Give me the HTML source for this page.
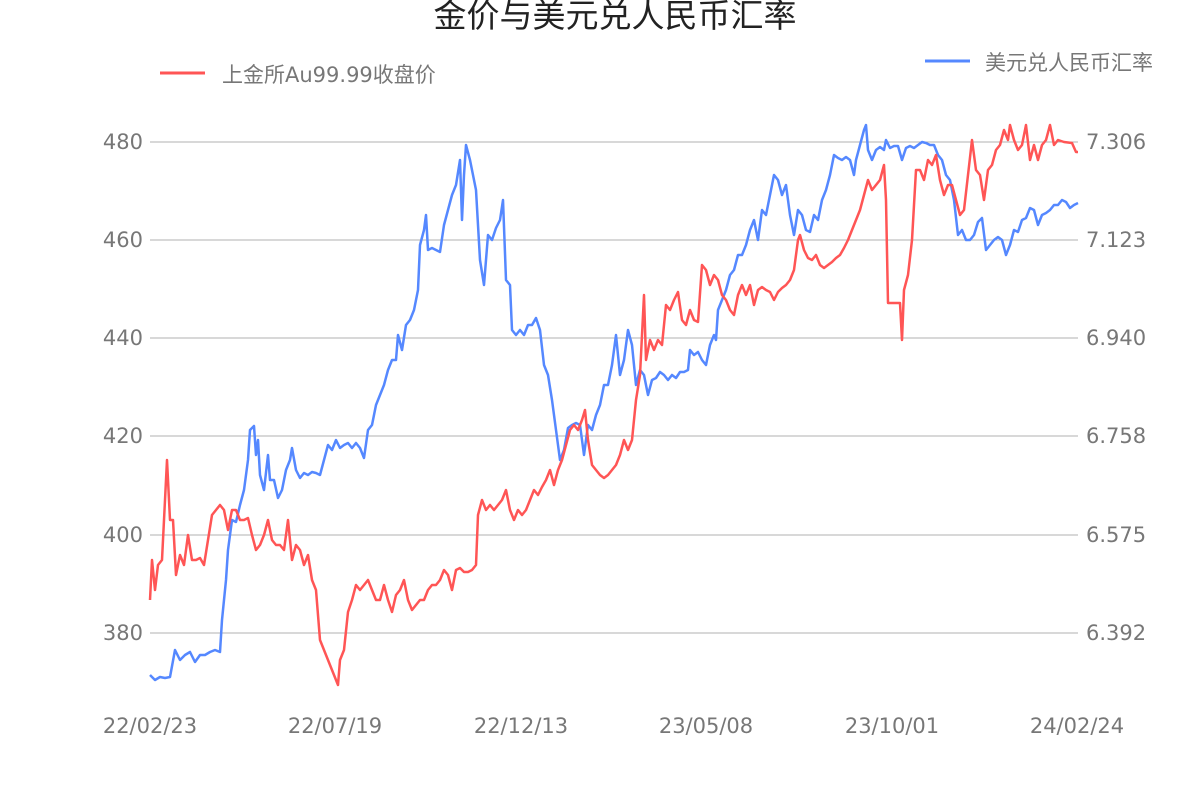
<!DOCTYPE html>
<html><head><meta charset="utf-8"><style>
html,body{margin:0;padding:0;background:#fff;}
svg{display:block;}
text{font-family:"DejaVu Sans","Noto Sans CJK SC",sans-serif;}
</style></head><body>
<svg width="1200" height="800" viewBox="0 0 1200 800" xmlns="http://www.w3.org/2000/svg">
<rect width="1200" height="800" fill="#fff"/>
<text x="615" y="27" font-size="33" text-anchor="middle" fill="#222">金价与美元兑人民币汇率</text>
<line x1="160" y1="73" x2="205" y2="73" stroke="#ff5555" stroke-width="3"/>
<text x="222" y="82" font-size="21" fill="#777">上金所Au99.99收盘价</text>
<line x1="925" y1="61" x2="970" y2="61" stroke="#5588ff" stroke-width="3"/>
<text x="985" y="70" font-size="21" fill="#777">美元兑人民币汇率</text>
<g stroke="#b0b0b0" stroke-width="1">
<line x1="150" y1="142" x2="1078" y2="142"/>
<line x1="150" y1="240" x2="1078" y2="240"/>
<line x1="150" y1="338" x2="1078" y2="338"/>
<line x1="150" y1="436" x2="1078" y2="436"/>
<line x1="150" y1="535" x2="1078" y2="535"/>
<line x1="150" y1="633" x2="1078" y2="633"/>
</g>
<g font-size="21" fill="#777" text-anchor="end">
<text x="143" y="149">480</text><text x="143" y="247">460</text><text x="143" y="345">440</text>
<text x="143" y="443">420</text><text x="143" y="542">400</text><text x="143" y="640">380</text>
</g>
<g font-size="21" fill="#777" text-anchor="start">
<text x="1086" y="149">7.306</text><text x="1086" y="247">7.123</text><text x="1086" y="345">6.940</text>
<text x="1086" y="443">6.758</text><text x="1086" y="542">6.575</text><text x="1086" y="640">6.392</text>
</g>
<g font-size="21" fill="#777" text-anchor="middle">
<text x="150" y="733">22/02/23</text><text x="335" y="733">22/07/19</text><text x="521" y="733">22/12/13</text>
<text x="706" y="733">23/05/08</text><text x="892" y="733">23/10/01</text><text x="1077" y="733">24/02/24</text>
</g>
<polyline fill="none" stroke="#5588ff" stroke-width="2.5" stroke-linejoin="round" points="150,675 155,680 160,677 165,678 170,677 175,650 180,660 185,655 190,652 195,662 200,655 205,655 210,652 215,650 220,652 222,620 226,580 228,550 232,520 236,522 240,505 244,490 248,460 250,430 254,426 256,455 258,440 260,475 264,490 268,455 270,480 274,480 278,498 282,490 286,470 290,460 292,448 296,470 300,478 304,473 308,475 312,472 316,473 320,475 324,460 328,445 332,450 336,440 340,448 344,445 348,443 352,448 356,443 360,448 364,458 368,430 372,425 376,405 380,395 384,385 388,370 392,360 396,360 398,335 402,350 406,325 410,320 414,310 418,290 420,245 424,230 426,215 428,250 432,248 436,250 440,252 444,225 448,210 452,195 456,185 460,160 462,220 464,175 466,145 470,160 474,180 476,190 480,260 484,285 488,235 492,240 496,228 500,220 503,200 506,280 510,285 512,330 516,335 520,330 524,335 528,325 532,325 536,318 540,330 544,365 548,375 552,400 556,430 560,460 564,450 568,428 572,425 576,423 580,425 584,455 588,425 592,430 596,415 600,405 604,385 608,385 612,365 616,335 620,375 624,360 628,330 632,345 636,385 640,370 644,375 648,395 652,380 656,378 660,372 664,375 668,380 672,375 676,378 680,372 684,372 688,370 690,350 694,355 698,352 702,360 706,365 710,345 714,335 716,340 718,310 722,300 726,290 730,275 734,270 738,255 742,255 746,245 750,230 754,220 758,240 762,210 766,215 770,195 774,175 778,180 782,195 786,185 790,215 794,235 798,210 802,215 806,230 810,232 814,215 818,220 822,200 826,190 830,175 834,155 838,158 842,160 846,157 850,160 854,175 856,160 860,145 864,130 866,125 868,150 872,160 876,150 880,147 884,150 886,140 890,148 894,146 898,146 902,160 906,148 910,146 914,148 918,145 922,142 926,143 930,145 934,145 938,155 942,160 946,175 950,180 954,200 958,235 962,230 966,240 970,240 974,235 978,222 982,218 986,250 990,245 994,240 998,237 1002,240 1006,255 1010,245 1014,230 1018,232 1022,220 1026,218 1030,208 1034,210 1038,225 1042,215 1046,213 1050,210 1054,205 1058,205 1062,200 1066,202 1070,208 1074,205 1078,203"/>
<polyline fill="none" stroke="#ff5555" stroke-width="2.5" stroke-linejoin="round" points="150,600 152,560 155,590 158,565 162,560 165,500 167,460 170,520 173,520 176,575 180,555 184,565 188,535 192,560 196,560 200,558 204,565 208,540 212,515 216,510 220,505 224,510 228,530 232,510 236,510 240,520 244,520 248,518 252,535 256,550 260,545 264,535 268,520 272,540 276,545 280,545 284,550 288,520 292,560 296,545 300,550 304,565 308,555 312,580 316,590 320,640 324,650 328,660 332,670 336,680 338,685 340,660 344,650 348,612 352,600 356,585 360,590 364,585 368,580 372,590 376,600 380,600 384,585 388,600 392,612 396,595 400,590 404,580 408,600 412,610 416,605 420,600 424,600 428,590 432,585 436,585 440,580 444,570 448,575 452,590 456,570 460,568 464,572 468,572 472,570 476,565 478,515 482,500 486,510 490,505 494,510 498,505 502,500 506,490 510,510 514,520 518,510 522,515 526,510 530,500 534,490 538,495 542,487 546,480 550,470 554,485 558,470 562,460 566,445 570,430 574,425 578,430 582,420 585,410 588,440 592,465 596,470 600,475 604,478 608,475 612,470 616,465 620,455 624,440 628,450 632,440 636,400 640,375 644,295 646,360 650,340 654,350 658,340 662,345 666,305 670,310 674,300 678,292 682,320 686,325 690,310 694,320 698,322 702,265 706,270 710,285 714,275 718,280 722,295 726,300 730,310 734,315 738,295 742,285 746,295 750,285 754,305 758,290 762,287 766,290 770,292 774,300 778,292 782,288 786,285 790,280 794,270 798,240 800,235 804,250 808,258 812,260 816,255 820,265 824,268 828,265 832,262 836,258 840,255 844,248 848,240 852,230 856,220 860,210 864,195 868,180 872,190 876,185 880,180 884,165 886,200 888,303 900,303 902,340 904,290 908,275 912,240 916,170 920,170 924,180 928,160 932,165 936,155 940,180 944,195 948,185 952,185 956,200 960,215 964,210 968,175 972,140 976,170 980,175 984,200 988,170 992,165 996,150 1000,145 1004,130 1008,140 1010,125 1014,140 1018,150 1022,145 1026,125 1030,160 1034,145 1038,160 1042,145 1046,140 1050,125 1054,145 1058,140 1064,142 1072,143 1076,152 1078,152"/>
</svg>
</body></html>
